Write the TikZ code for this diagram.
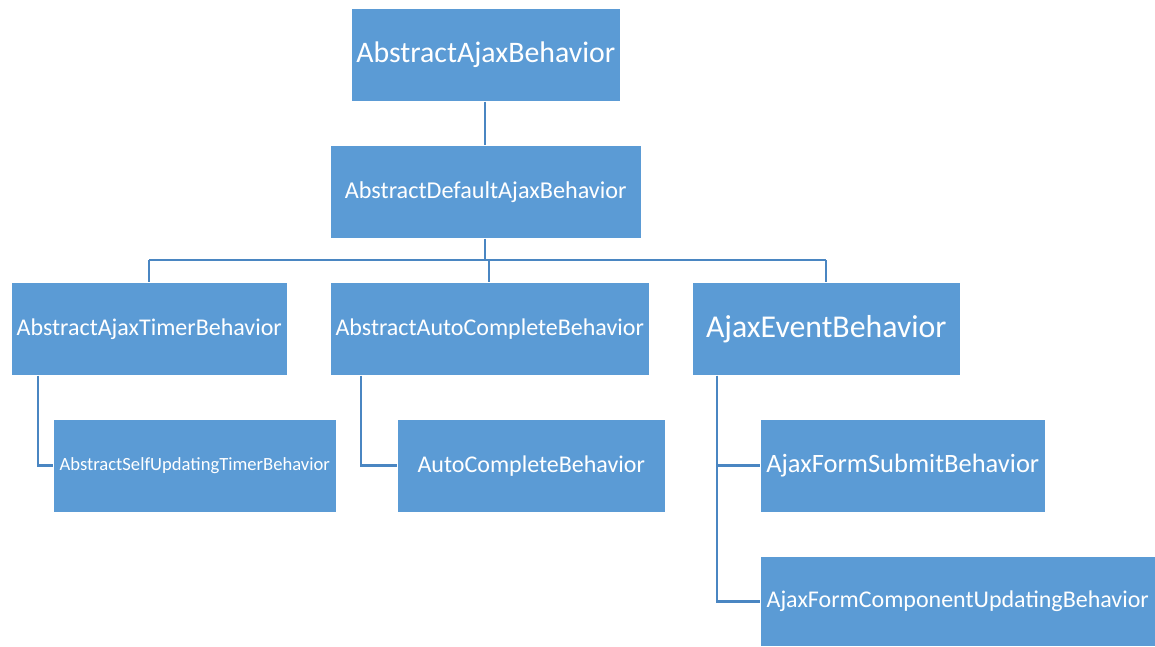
\documentclass[tikz,border=0pt]{standalone}
\usepackage{fontspec}
\setmainfont{Carlito}
\definecolor{boxblue}{HTML}{5B9BD5}
\definecolor{lineblue}{HTML}{4A86C2}
\begin{document}
\begin{tikzpicture}[x=1pt,y=-1pt,
  box/.style={fill=boxblue,draw=white,line width=0.5pt,text=white,inner sep=0pt,anchor=north west},
  conn/.style={draw=lineblue,line width=2.6pt}]
\useasboundingbox (0,0) rectangle (1155,646);
% boxes
\node[box,minimum width=269pt,minimum height=93pt,font=\fontsize{29.8}{34}\selectfont] (a) at (351,8) {AbstractAjaxBehavior};
\node[box,minimum width=311pt,minimum height=93pt,font=\fontsize{24.2}{28}\selectfont] (d) at (330,145) {AbstractDefaultAjaxBehavior};
\node[box,minimum width=276pt,minimum height=93pt,font=\fontsize{24}{28}\selectfont] (t) at (11,282) {AbstractAjaxTimerBehavior};
\node[box,minimum width=319pt,minimum height=93pt,font=\fontsize{24}{28}\selectfont] (c) at (330,282) {AbstractAutoCompleteBehavior};
\node[box,minimum width=268pt,minimum height=93pt,font=\fontsize{31.8}{36}\selectfont] (e) at (692,282) {AjaxEventBehavior};
\node[box,minimum width=283pt,minimum height=93pt,font=\fontsize{18.6}{22}\selectfont] (s) at (53,419) {AbstractSelfUpdatingTimerBehavior};
\node[box,minimum width=268pt,minimum height=93pt,font=\fontsize{24}{28}\selectfont] (ac) at (397,419) {AutoCompleteBehavior};
\node[box,minimum width=285pt,minimum height=93pt,font=\fontsize{26.5}{30}\selectfont] (fs) at (760,419) {AjaxFormSubmitBehavior};
\node[box,minimum width=395pt,minimum height=90pt,font=\fontsize{24}{28}\selectfont] (fc) at (760,556) {AjaxFormComponentUpdatingBehavior};
% connectors
\coordinate (bus) at (485,260);
\draw[conn] (a.south -| 485,0) -- (d.north -| 485,0);
\draw[conn] (d.south -| 485,0) -- (bus);
\draw[conn] (149,260) -- (826,260);
\draw[conn] (149,260) -- (t.north -| 149,0);
\draw[conn] (489,260) -- (c.north -| 489,0);
\draw[conn] (826,260) -- (e.north -| 826,0);
\draw[conn] (t.south -| 38,0) |- (s.west);
\draw[conn] (c.south -| 361,0) |- (ac.west);
\draw[conn] (e.south -| 717,0) |- (fs.west);
\draw[conn] (e.south -| 717,0) |- (fc.west);
\end{tikzpicture}
\end{document}
